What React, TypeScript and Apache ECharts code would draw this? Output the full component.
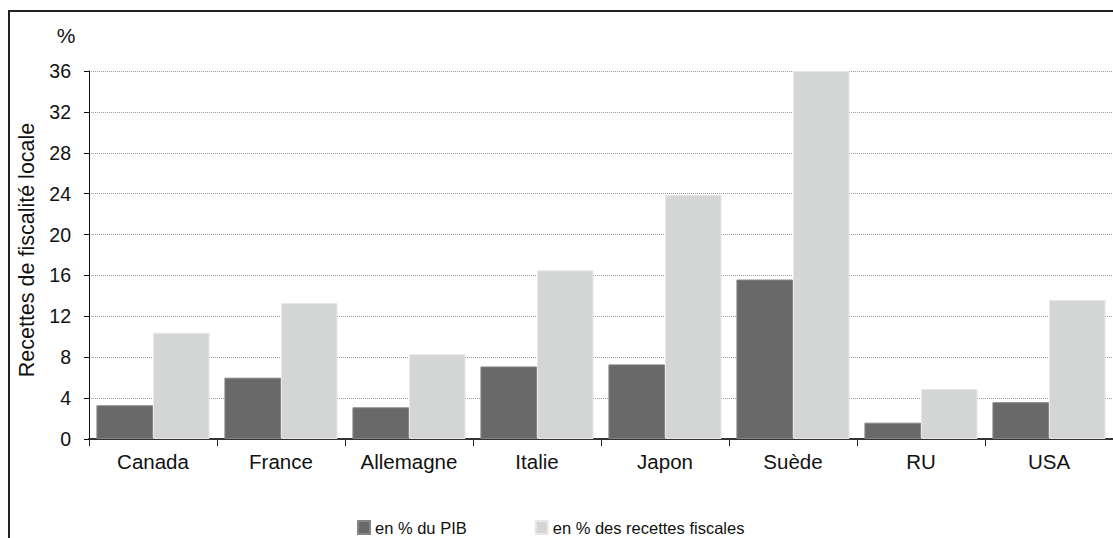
import React, { useEffect, useRef } from "react";
import * as echarts from "echarts";

const categories = ["Canada", "France", "Allemagne", "Italie", "Japon", "Suède", "RU", "USA"];
const pibValues = [3.3, 6.0, 3.1, 7.1, 7.3, 15.6, 1.6, 3.6];
const recettesValues = [10.4, 13.3, 8.3, 16.5, 23.9, 36.0, 4.9, 13.6];
const seriesNames = ["en % du PIB", "en % des recettes fiscales"];
const yAxisTitle = "Recettes de fiscalité locale";
const yUnit = "%";

const FONT = "'Liberation Sans', Arial, Helvetica, sans-serif";

export default function App() {
  const ref = useRef<HTMLDivElement>(null);
  useEffect(() => {
    if (!ref.current) return;
    const chart = echarts.init(ref.current, undefined, { renderer: "svg" });
    chart.setOption({
      animation: false,
      backgroundColor: "#ffffff",
      textStyle: { fontFamily: FONT },
      grid: { left: 89, top: 71, width: 1030, height: 368, containLabel: false },
      legend: {
        left: 357,
        top: 519,
        padding: 0,
        itemWidth: 12,
        itemHeight: 13,
        itemGap: 68,
        icon: "rect",
        textStyle: { fontFamily: FONT, fontSize: 16.5, lineHeight: 15, color: "#111" },
        data: seriesNames,
      },
      xAxis: {
        type: "category",
        data: categories,
        boundaryGap: true,
        axisLine: { show: true, lineStyle: { color: "#333", width: 2 } },
        axisTick: { show: true, interval: 0, alignWithLabel: false, length: 7, lineStyle: { color: "#222", width: 1 } },
        axisLabel: { interval: 0, hideOverlap: false, margin: 12, fontSize: 20.5, color: "#111", fontFamily: FONT },
        splitLine: { show: false },
      },
      yAxis: {
        type: "value",
        min: 0,
        max: 36,
        interval: 4,
        axisLine: { show: true, lineStyle: { color: "#111", width: 1 } },
        axisTick: { show: true, length: 5, lineStyle: { color: "#111" } },
        axisLabel: { margin: 18, fontSize: 19.5, color: "#111", fontFamily: FONT },
        splitLine: { show: true, lineStyle: { color: "#9a9a9a", type: "dotted", width: 1 } },
      },
      series: [
        {
          name: seriesNames[0],
          type: "bar",
          data: pibValues,
          barGap: "0%",
          barCategoryGap: "11.6%",
          itemStyle: { color: "#696969", borderColor: "#868686", borderWidth: 1 },
        },
        {
          name: seriesNames[1],
          type: "bar",
          data: recettesValues,
          barGap: "0%",
          barCategoryGap: "11.6%",
          itemStyle: { color: "#d4d6d5", borderColor: "#e8e8e8", borderWidth: 1 },
        },
      ],
      graphic: [
        {
          type: "rect",
          shape: { x: 9, y: 11, width: 1300, height: 700 },
          style: { fill: "none", stroke: "#222", lineWidth: 2 },
          silent: true,
        },
        {
          type: "text",
          x: 66,
          y: 35,
          style: {
            text: yUnit,
            fontSize: 21,
            fontFamily: FONT,
            fill: "#111",
            textAlign: "center",
            textVerticalAlign: "middle",
          },
        },
        {
          type: "text",
          x: 27,
          y: 250,
          rotation: Math.PI / 2,
          style: {
            text: yAxisTitle,
            fontSize: 21.5,
            fontFamily: FONT,
            fill: "#111",
            textAlign: "center",
            textVerticalAlign: "middle",
          },
        },
      ],
    });
    return () => chart.dispose();
  }, []);
  return (
    <div
      ref={ref}
      style={{ position: "fixed", left: 0, top: 0, width: 1113, height: 538 }}
    />
  );
}
